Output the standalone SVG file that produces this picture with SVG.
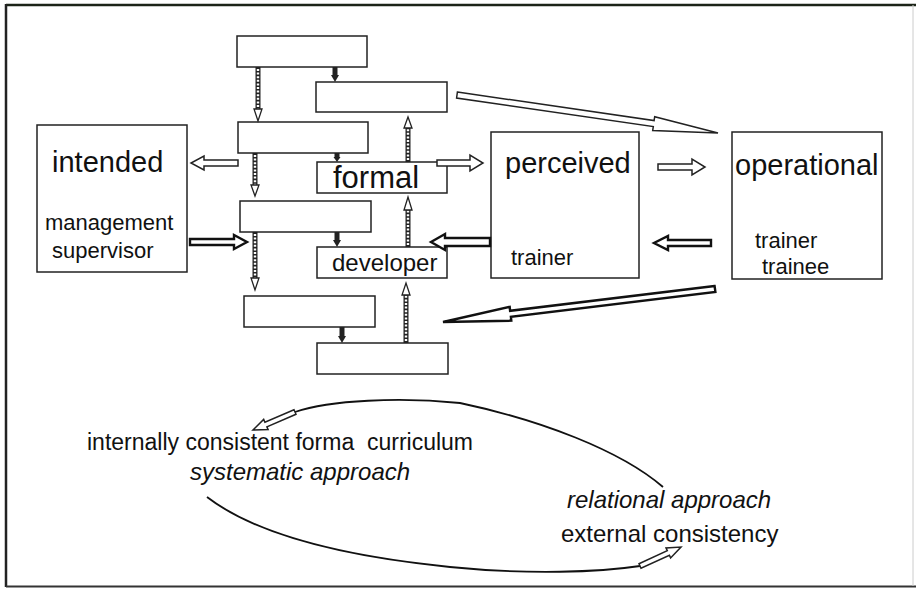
<svg xmlns="http://www.w3.org/2000/svg" width="916" height="589" viewBox="0 0 916 589">
<style>
  .box{fill:#fff;stroke:#222;stroke-width:1.5}
  .t{font-family:"Liberation Sans",Arial,sans-serif;fill:#111}
  .big{font-size:29px}
  .mid{font-size:22px}
  .low{font-size:24px}
  .it{font-style:italic}
  .blk{fill:#fff;stroke:#222;stroke-width:1.5;stroke-linejoin:miter}
  .blk2{fill:#fff;stroke:#111;stroke-width:2.4;stroke-linejoin:miter}
  .rail{stroke:#222;stroke-width:5;fill:none}
  .rung{stroke:#fff;stroke-width:2.4;stroke-dasharray:2 1.6;fill:none}
  .hd{fill:#fff;stroke:#222;stroke-width:1.3}
  .curve{fill:none;stroke:#111;stroke-width:1.8}
</style>

<g id="frame">
  <line x1="6" y1="5" x2="916" y2="5" stroke="#1c2418" stroke-width="2.5"/>
  <line x1="6" y1="4" x2="6" y2="587" stroke="#222" stroke-width="2.5"/>
  <line x1="6" y1="586.5" x2="916" y2="586.5" stroke="#333" stroke-width="2"/>
  <line x1="913" y1="5" x2="913" y2="586" stroke="#ccc" stroke-width="1"/>
</g>

<g id="boxA"><rect class="box" x="237" y="36" width="130" height="31"/></g>
<g id="boxB"><rect class="box" x="316" y="82" width="131" height="30"/></g>
<g id="boxC"><rect class="box" x="238" y="122" width="130" height="31"/></g>
<g id="formal"><rect class="box" x="317" y="162" width="130" height="31"/>
  <text class="t" x="333" y="188" font-size="31">formal</text></g>
<g id="boxD"><rect class="box" x="240" y="201" width="131" height="31"/></g>
<g id="developer"><rect class="box" x="317" y="247" width="130" height="31"/>
  <text class="t low" x="332" y="271">developer</text></g>
<g id="boxE"><rect class="box" x="244" y="296" width="131" height="31"/></g>
<g id="boxF"><rect class="box" x="317" y="343" width="131" height="31"/></g>

<g id="intended"><rect class="box" x="37" y="125" width="150" height="147"/>
  <text class="t big" x="52" y="172">intended</text>
  <text class="t mid" x="45" y="230">management</text>
  <text class="t mid" x="52" y="258">supervisor</text></g>

<g id="perceived"><rect class="box" x="491" y="132" width="148" height="146"/>
  <text class="t big" x="505" y="173">perceived</text>
  <text class="t mid" x="511" y="265">trainer</text></g>

<g id="operational"><rect class="box" x="732" y="132" width="150" height="147"/>
  <text class="t big" x="735" y="175">operational</text>
  <text class="t mid" x="755" y="248">trainer</text>
  <text class="t mid" x="762" y="274">trainee</text></g>

<g id="notes">
  <text class="t" x="87" y="450" font-size="23" xml:space="preserve">internally consistent forma  curriculum</text>
  <text class="t low it" x="190" y="480">systematic approach</text>
  <text class="t low it" x="567" y="508">relational approach</text>
  <text class="t low" x="561" y="542">external consistency</text>
</g>

<g id="connectors">
  <line class="rail" x1="258" y1="67" x2="258" y2="110"/><line class="rung" x1="258" y1="69" x2="258" y2="110"/>
  <polygon class="hd" points="254,109 262,109 258,121"/>
  <line class="rail" x1="255" y1="153" x2="255" y2="186"/><line class="rung" x1="255" y1="155" x2="255" y2="186"/>
  <polygon class="hd" points="251,185 259,185 255,196"/>
  <line class="rail" x1="255" y1="232" x2="255" y2="279"/><line class="rung" x1="255" y1="234" x2="255" y2="279"/>
  <polygon class="hd" points="251,278 259,278 255,290"/>
  <line class="rail" x1="335" y1="67" x2="335" y2="76"/>
  <polygon points="331,75 339,75 335,82" fill="#222"/>
  <line class="rail" x1="337" y1="153" x2="337" y2="158"/>
  <polygon points="333.5,157 340.5,157 337,162" fill="#222"/>
  <line class="rail" x1="337" y1="232" x2="337" y2="241"/>
  <polygon points="333,240 341,240 337,247" fill="#222"/>
  <line class="rail" x1="342" y1="327" x2="342" y2="337"/>
  <polygon points="338,336 346,336 342,343" fill="#222"/>
  <line class="rail" x1="408" y1="162" x2="408" y2="127"/><line class="rung" x1="408" y1="160" x2="408" y2="127"/>
  <polygon class="hd" points="404,128 412,128 408,117"/>
  <line class="rail" x1="408" y1="247" x2="408" y2="209"/><line class="rung" x1="408" y1="245" x2="408" y2="209"/>
  <polygon class="hd" points="404,210 412,210 408,197"/>
  <line class="rail" x1="406" y1="343" x2="406" y2="294"/><line class="rung" x1="406" y1="341" x2="406" y2="294"/>
  <polygon class="hd" points="402,295 410,295 406,283"/>

  <polygon class="blk" points="238,160 204,160 204,156 191,163 204,170 204,166 238,166"/>
  <polygon class="blk2" points="190,239 234,239 234,235 247,242 234,249 234,245 190,245"/>
  <polygon class="blk" points="437,160 470,160 470,155 483,163 470,171 470,166 437,166"/>
  <polygon class="blk" points="658,164 692,164 692,159 705,167 692,175 692,170 658,170"/>
  <polygon class="blk2" points="490,238 445,238 445,234 431,242 445,250 445,246 490,246"/>
  <polygon class="blk2" points="711,240 668,240 668,236 654,243 668,250 668,246 711,246"/>

  <polygon class="blk" points="457.4,92 654.1,120.6 654.7,116.7 718,133 652.7,130.5 653.3,126.6 456.6,98"/>
  <polygon class="blk2" points="714.6,286 510.1,310.8 509.7,306.9 443,322 511.3,320.7 510.9,316.8 715.4,292"/>

  <path class="curve" d="M 295 412 C 330 400, 400 397, 460 403 C 540 420, 620 450, 663 487"/>
  <polygon class="blk" points="294,409.7 264.9,422.2 263.7,419.4 253,430 268.1,429.6 266.9,426.8 296,414.3"/>
  <path class="curve" d="M 207 497 C 250 530, 330 555, 450 567 C 530 575, 600 572, 640 566"/>
  <polygon class="blk" points="639,563.7 667.3,550.6 666,547.9 681,547 670.6,557.9 669.4,555.2 641,568.3"/>
</g>
</svg>
